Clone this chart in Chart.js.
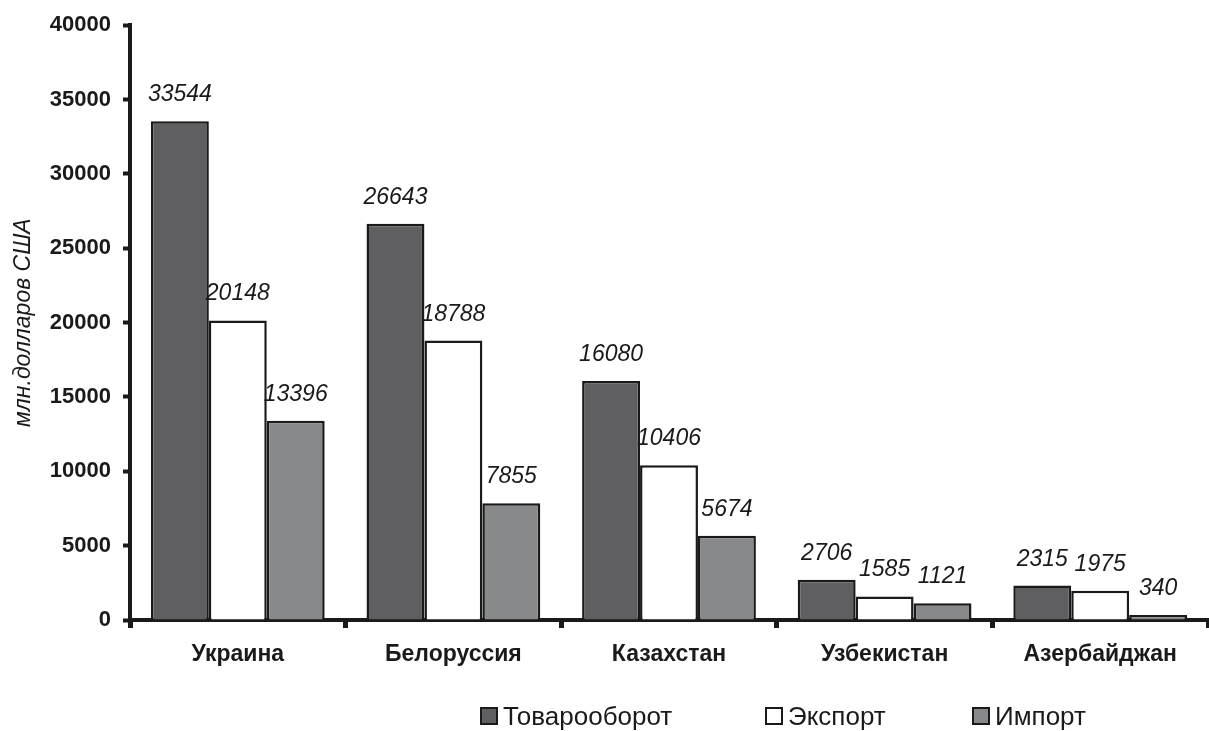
<!DOCTYPE html>
<html>
<head>
<meta charset="utf-8">
<script src="https://cdn.jsdelivr.net/npm/chart.js@4"></script>
<style>
  html, body { margin: 0; padding: 0; background: #fff; }
  #wrap { position: relative; width: 1209px; height: 731px; }
  #legend { position: absolute; top: 701px; left: 0; width: 1209px; height: 30px;
    font: 26px "Liberation Sans", Arial, sans-serif; color: #1a1a1a; }
  #legend span.item { position: absolute; top: 0; white-space: nowrap; }
  #legend span.box { display: inline-block; width: 14px; height: 14px; border: 2px solid #1a1a1a;
    vertical-align: 0px; margin-right: 5px; }
</style>
</head>
<body>
<div id="wrap">
  <canvas id="graph" width="1209" height="731"></canvas>
  <div id="legend"></div>
</div>
<script>
var countries = ['Украина', 'Белоруссия', 'Казахстан', 'Узбекистан', 'Азербайджан'];
var turnover = [33544, 26643, 16080, 2706, 2315];
var exportVals = [20148, 18788, 10406, 1585, 1975];
var importVals = [13396, 7855, 5674, 1121, 340];
var seriesNames = ['Товарооборот', 'Экспорт', 'Импорт'];
var seriesColors = ['#5f5f61', '#ffffff', '#88898b'];
var yTicks = [0, 5000, 10000, 15000, 20000, 25000, 30000, 35000, 40000];
var legendLeft = [480, 765, 972];

document.addEventListener('DOMContentLoaded', () => {
  var ink = '#1a1a1a';
  var family = '"Liberation Sans", Arial, sans-serif';

  // values over the bars
  var valueLabels = {
    id: 'valueLabels',
    afterDatasetsDraw(chart) {
      var ctx = chart.ctx;
      ctx.save();
      ctx.font = 'italic 23px ' + family;
      ctx.fillStyle = ink;
      ctx.textAlign = 'center';
      ctx.textBaseline = 'alphabetic';
      chart.data.datasets.forEach((ds, i) => {
        chart.getDatasetMeta(i).data.forEach((bar, j) => {
          ctx.fillText(String(ds.data[j]), bar.x, bar.y - 20);
        });
      });
      ctx.restore();
    }
  };

  var allValues = [turnover, exportVals, importVals];

  var graph = document.getElementById('graph').getContext('2d');
  var myChart = new Chart(graph, {
    type: 'bar',
    data: {
      labels: countries,
      datasets: allValues.map((vals, i) => ({
        label: seriesNames[i],
        data: vals,
        backgroundColor: seriesColors[i],
        borderColor: ink,
        borderWidth: 2.5,
        borderSkipped: 'bottom',
        categoryPercentage: 0.806,
        barPercentage: 1
      }))
    },
    options: {
      responsive: false,
      animation: false,
      layout: { padding: { top: 25, right: 1, bottom: 65, left: 0 } },
      scales: {
        y: {
          min: 0,
          max: 40000,
          afterFit: s => { s.width = 130; },
          afterBuildTicks: s => { s.ticks = yTicks.map(v => ({ value: v })); },
          ticks: {
            color: ink,
            padding: 12,
            font: { family: family, size: 22, weight: 'bold' },
            callback: v => String(v)
          },
          grid: {
            drawOnChartArea: false,
            drawTicks: true,
            tickLength: 7,
            tickWidth: 4,
            tickColor: ink
          },
          border: { color: ink, width: 4 },
          title: {
            display: true,
            text: 'млн.долларов США',
            color: ink,
            padding: { top: 10, bottom: 0 },
            font: { family: family, size: 23, style: 'italic' }
          }
        },
        x: {
          afterFit: s => { s.height = 46; },
          ticks: {
            color: ink,
            padding: 13,
            font: { family: family, size: 23, weight: 'bold' }
          },
          grid: {
            offset: true,
            drawOnChartArea: false,
            drawTicks: true,
            tickLength: 8,
            tickWidth: 5,
            tickColor: ink
          },
          border: { color: ink, width: 4 }
        }
      },
      plugins: {
        legend: { display: false },
        tooltip: { enabled: false }
      }
    },
    plugins: [valueLabels]
  });

  // legend as html below the canvas
  var legend = document.getElementById('legend');
  myChart.data.datasets.forEach((ds, i) => {
    var item = document.createElement('span');
    item.className = 'item';
    item.style.left = legendLeft[i] + 'px';
    var box = document.createElement('span');
    box.className = 'box';
    box.style.background = ds.backgroundColor;
    item.appendChild(box);
    item.appendChild(document.createTextNode(ds.label));
    legend.appendChild(item);
  });
});
</script>
</body>
</html>
